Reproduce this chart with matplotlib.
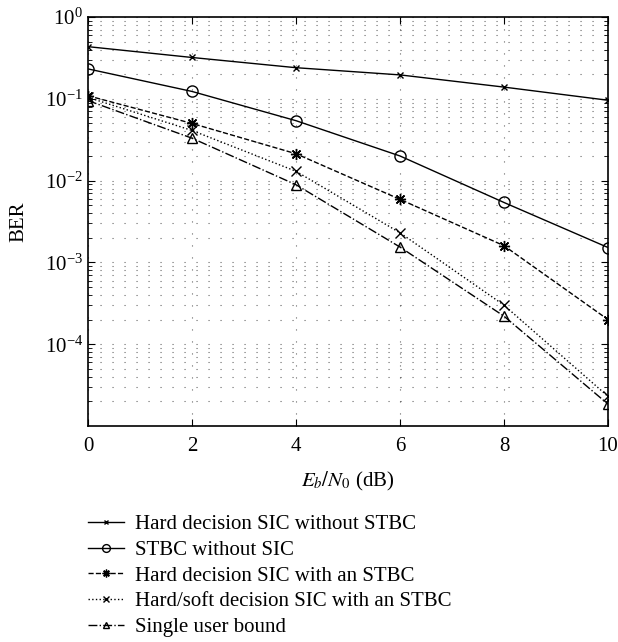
import numpy as np
import matplotlib
matplotlib.use("Agg")
import matplotlib.pyplot as plt
from matplotlib.ticker import LogLocator, NullFormatter, FixedLocator

plt.rcParams['font.family'] = ['Liberation Serif', 'DejaVu Serif']
plt.rcParams['mathtext.fontset'] = 'stix'

# Eb/N0 (dB)
snr = [0, 2, 4, 6, 8, 10]

# BER
ber_hard_no_stbc = [0.434, 0.32, 0.24, 0.196, 0.139, 0.096]
ber_stbc_no_sic = [0.232, 0.123, 0.054, 0.020, 0.0054, 0.00152]
ber_hard_stbc = [0.109, 0.050, 0.0213, 0.0059, 0.0016, 0.0002]
ber_soft_stbc = [0.104, 0.041, 0.013, 0.0023, 0.0003, 2.3e-5]
ber_single_user = [0.095, 0.033, 0.0089, 0.00154, 0.00022, 1.85e-5]

# labelled decades on the y axis
y_ticks = [1e-4, 1e-3, 1e-2, 1e-1, 1e0]

labels = ["Hard decision SIC without STBC",
          "STBC without SIC",
          "Hard decision SIC with an STBC",
          "Hard/soft decision SIC with an STBC",
          "Single user bound"]

fs = 15

fig = plt.figure(figsize=(6.18, 6.42), dpi=100)
ax = fig.add_axes([88 / 618, 1 - 426 / 642, 520 / 618, 409 / 642])

k = dict(color="black", linewidth=1.0, markerfacecolor="none", markeredgecolor="black")
ax.semilogy(snr, ber_hard_no_stbc, "-", marker="x", markersize=5, label=labels[0], **k)
ax.semilogy(snr, ber_stbc_no_sic, "-", marker="o", markersize=8, label=labels[1], **k)
ax.semilogy(snr, ber_hard_stbc, "--", marker=(8, 2, 0), markersize=8, label=labels[2], **k)
ax.semilogy(snr, ber_soft_stbc, ":", marker="x", markersize=7, label=labels[3], **k)
ax.semilogy(snr, ber_single_user, "-.", marker="^", markersize=7, label=labels[4], **k)

ax.set_xlim(0, 10)
ax.set_ylim(1e-5, 1)
ax.xaxis.set_major_locator(FixedLocator(snr))
ax.yaxis.set_major_locator(FixedLocator(y_ticks))
ax.yaxis.set_minor_locator(LogLocator(base=10, subs=np.arange(2, 10), numticks=20))
ax.yaxis.set_minor_formatter(NullFormatter())

grid_style = dict(color="black", linewidth=0.8, linestyle=(0, (1, 9.8)), alpha=0.6)
ax.grid(True, which="major", axis="both", **grid_style)
ax.grid(True, which="minor", axis="y", **grid_style)

ax.tick_params(which="both", direction="in", top=True, right=True, labelsize=fs)
ax.tick_params(which="major", length=5)
ax.tick_params(axis="x", which="major", pad=8)
ax.tick_params(which="minor", length=3)
for s in ax.spines.values():
    s.set_linewidth(1.2)

ax.set_xlabel(r"$E_b/N_0$ (dB)", fontsize=fs, labelpad=10)
ax.set_ylabel("BER", fontsize=fs, labelpad=12)

ax.legend(loc="upper left", bbox_to_anchor=(0, -0.217), frameon=False,
          borderaxespad=0, borderpad=0, handlelength=1.75, handletextpad=0.5,
          labelspacing=0.29, fontsize=fs, markerscale=0.7)

fig.savefig("out.png", dpi=100)
